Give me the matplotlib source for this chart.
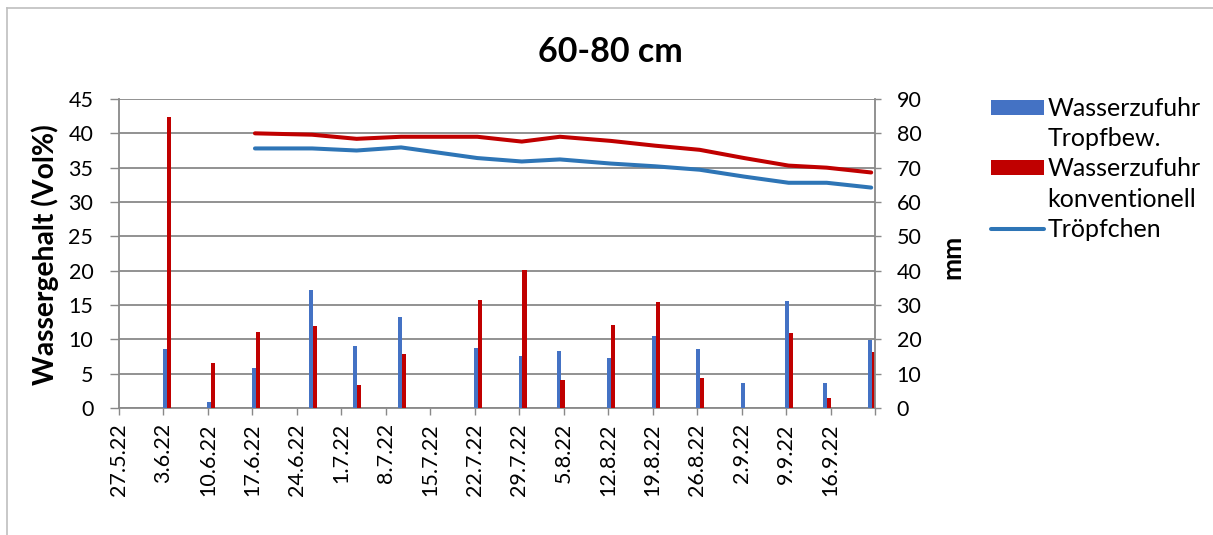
import matplotlib.pyplot as plt
import matplotlib.dates as mdates
from matplotlib.lines import Line2D
from matplotlib.patches import Patch
import pandas as pd
import numpy as np

plt.rcParams['font.family'] = ['Lato', 'DejaVu Sans']

# Wasserzufuhr in mm an den Bewässerungstagen
bar_dates = ["3.6.22", "10.6.22", "17.6.22", "26.6.22", "3.7.22", "10.7.22", "22.7.22", "29.7.22",
             "4.8.22", "12.8.22", "19.8.22", "26.8.22", "2.9.22", "9.9.22", "15.9.22", "22.9.22"]
tropf_mm = [17.3, 1.8, 11.7, 34.4, 18.1, 26.6, 17.6, 15.1, 16.5, 14.6, 21.1, 17.3, 7.3, 31.2, 7.3, 19.8]
konv_mm = [84.9, 13.1, 22.2, 23.8, 6.8, 15.6, 31.4, 40.1, 8.3, 24.3, 30.9, 8.6, 0.0, 21.7, 2.8, 16.2]

# Wassergehalt 60-80 cm in Vol%
line_dates = ["17.6.22", "26.6.22", "3.7.22", "10.7.22", "22.7.22", "29.7.22", "4.8.22",
              "12.8.22", "19.8.22", "26.8.22", "2.9.22", "9.9.22", "15.9.22", "22.9.22"]
tropf_vol = [37.8, 37.8, 37.5, 37.95, 36.4, 35.9, 36.2, 35.6, 35.2, 34.7, 33.7, 32.8, 32.8, 32.1]
konv_vol = [40.0, 39.8, 39.2, 39.5, 39.5, 38.8, 39.5, 38.9, 38.2, 37.6, 36.4, 35.3, 35.0, 34.3]

tick_labels = ["27.5.22", "3.6.22", "10.6.22", "17.6.22", "24.6.22", "1.7.22", "8.7.22", "15.7.22",
               "22.7.22", "29.7.22", "5.8.22", "12.8.22", "19.8.22", "26.8.22", "2.9.22", "9.9.22",
               "16.9.22"]


def to_num(d):
    return mdates.date2num(pd.to_datetime(d, format="%d.%m.%y").to_numpy())


xb = to_num(bar_dates)
xl = to_num(line_dates)
x0 = to_num("27.5.22")
x1 = to_num("23.9.22")

grey = '#898989'
fs = 15.5

fig = plt.figure(figsize=(12.13, 5.35), dpi=100)
ax = fig.add_axes([119 / 1213, 1 - 408 / 535, 756 / 1213, 309 / 535])
ax2 = ax.twinx()

# Bewässerung als schmale Balken auf der mm-Achse
b1 = ax2.bar(xb + 0.2, tropf_mm, width=0.62, color='#4472C4')
b2 = ax2.bar(xb + 0.82, konv_mm, width=0.66, color='#C00000')

# Wassergehalt auf der linken Achse
l1, = ax.plot(xl + 0.4, tropf_vol, color='#2E75B6', lw=2.9, solid_capstyle='round')
l2, = ax.plot(xl + 0.4, konv_vol, color='#C00000', lw=2.9, solid_capstyle='round')

ax.set_xlim(x0, x1)
ax.set_ylim(0, 45)
ax2.set_ylim(0, 90)
ax.set_yticks(np.arange(0, 46, 5))
ax2.set_yticks(np.arange(0, 91, 10))
ax.set_xticks(np.arange(x0, x1 + 1, 7))
ax.set_xticklabels(tick_labels + [""], rotation=90)

ax.grid(axis='y', color=grey, lw=1.3)
ax.set_axisbelow(True)
for a in (ax, ax2):
    for s in a.spines.values():
        s.set_visible(False)
ax.spines['left'].set_visible(True)
ax.spines['bottom'].set_visible(True)
ax2.spines['right'].set_visible(True)
for s in (ax.spines['left'], ax.spines['bottom'], ax2.spines['right']):
    s.set_color(grey)
    s.set_linewidth(1.3)

ax.tick_params(axis='y', length=6.5, width=1, color=grey, labelsize=fs, pad=12)
ax.tick_params(axis='x', length=5, width=1, color=grey, labelsize=fs, pad=6)
ax2.tick_params(axis='y', length=4.5, width=1, color=grey, labelsize=fs, pad=11)

ax.set_ylabel('Wassergehalt (Vol%)', fontsize=20.3, fontweight='bold')
ax.yaxis.set_label_coords(-0.079, 0.497)
ax2.set_ylabel('mm', fontsize=19, fontweight='bold', rotation=90)
ax2.yaxis.set_label_coords(1.086, 0.49)

fig.text(610 / 1213, 1 - 52 / 535, '60-80 cm', ha='center', va='center', fontsize=24.5, fontweight='bold')

blank = Patch(facecolor='none', edgecolor='none')
fig.legend([b1, blank, b2, blank, l1],
           ['Wasserzufuhr', 'Tropfbew.', 'Wasserzufuhr', 'konventionell', 'Tröpfchen'],
           loc='upper left', bbox_to_anchor=(991 / 1213, 1 - 97 / 535), frameon=False,
           fontsize=18, handlelength=2.1, handleheight=0.56, handletextpad=0.15,
           labelspacing=0.29, borderpad=0, borderaxespad=0)

# Rahmen oben und links
fig.add_artist(Line2D([7 / 1213, 1], [1 - 8 / 535, 1 - 8 / 535], color='#BFBFBF', lw=1.2))
fig.add_artist(Line2D([7 / 1213, 7 / 1213], [0, 1 - 8 / 535], color='#BFBFBF', lw=1.2))

plt.savefig('out.png', dpi=100)
